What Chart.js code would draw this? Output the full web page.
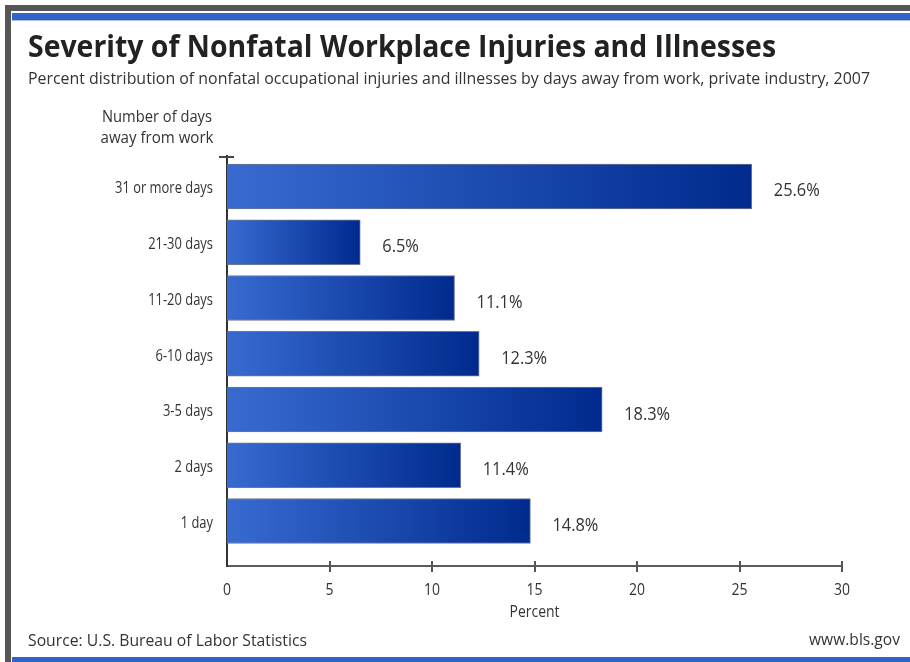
<!DOCTYPE html>
<html>
<head>
<meta charset="utf-8">
<script src="https://cdn.jsdelivr.net/npm/chart.js@4"></script>
<style>
  html, body { margin: 0; padding: 0; background: #ffffff; }
  body { width: 910px; height: 662px; position: relative; overflow: hidden; }
  .frame { position: absolute; }
  #wrap { position: absolute; left: 0; top: 0; width: 910px; height: 662px; }
</style>
</head>
<body>
<div class="frame" style="left:5px;top:5px;width:905px;height:6px;background:#555555;"></div>
<div class="frame" style="left:5px;top:5px;width:6px;height:657px;background:#555555;"></div>
<div class="frame" style="left:12px;top:13px;width:898px;height:7px;background:#3163c9;"></div>
<div class="frame" style="left:12px;top:20px;width:898px;height:1px;background:#a9bfe8;"></div>
<div class="frame" style="left:12px;top:657px;width:898px;height:5px;background:#3163c9;"></div>
<div id="wrap"><canvas id="c" width="910" height="662"></canvas></div>
<script>
// ---- data ----
const categories = ["31 or more days", "21-30 days", "11-20 days", "6-10 days", "3-5 days", "2 days", "1 day"];
const percents = [25.6, 6.5, 11.1, 12.3, 18.3, 11.4, 14.8];
const xTicks = [0, 5, 10, 15, 20, 25, 30];

const titleText = "Severity of Nonfatal Workplace Injuries and Illnesses";
const subtitleText = "Percent distribution of nonfatal occupational injuries and illnesses by days away from work, private industry, 2007";
const yTitleLines = ["Number of days", "away from work"];
const xTitleText = "Percent";
const sourceText = "Source: U.S. Bureau of Labor Statistics";
const urlText = "www.bls.gov";

const TEXT = "#333333";
const FAMILY = "'Open Sans', 'Noto Sans', sans-serif";

// The reference uses a condensed face; none is installed, so text drawn with
// these (marker) sizes is squeezed horizontally towards the reference widths.
const Y_TICK_SIZE = 17.1, X_TICK_SIZE = 17.2, VALUE_SIZE = 17.3;
const probe = document.createElement('canvas').getContext('2d');
function widthAt(size, s) { probe.font = size + "px " + FAMILY; return probe.measureText(s).width; }
const squeeze = {
  '17.1px': 98 / widthAt(Y_TICK_SIZE, categories[0]),
  '17.2px': 16 / widthAt(X_TICK_SIZE, "30"),
  '17.3px': 46 / widthAt(VALUE_SIZE, "25.6%")
};

const canvas = document.getElementById('c');
const ctx2d = canvas.getContext('2d');
const nativeFill = CanvasRenderingContext2D.prototype.fillText;
ctx2d.fillText = function (text, x, y, maxWidth) {
  let k = 1;
  for (const key in squeeze) { if (this.font.indexOf(key) >= 0) { k = squeeze[key]; break; } }
  if (k === 1) {
    return maxWidth === undefined ? nativeFill.call(this, text, x, y) : nativeFill.call(this, text, x, y, maxWidth);
  }
  this.save();
  this.translate(x, y);
  this.scale(k, 1);
  nativeFill.call(this, text, 0, 0);
  this.restore();
};

const points = percents.map((v, i) => ({ x: v, y: i }));

function barGradient(c) {
  const chart = c.chart;
  const area = chart.chartArea;
  if (!area || c.parsed === undefined) return '#1f4fb0';
  const xs = chart.scales.x;
  const x0 = xs.getPixelForValue(0);
  const x1 = xs.getPixelForValue(c.parsed.x);
  const g = chart.ctx.createLinearGradient(x0, 0, x1, 0);
  g.addColorStop(0, '#386bd0');
  g.addColorStop(1, '#002a8e');
  return g;
}

// draw text squeezed/stretched horizontally to a given width
function fitText(ctx, text, x, y, width, align) {
  const w = ctx.measureText(text).width;
  ctx.save();
  ctx.translate(x, y);
  ctx.scale(width / w, 1);
  ctx.textAlign = align;
  nativeFill.call(ctx, text, 0, 0);
  ctx.restore();
}

const decorations = {
  id: 'decorations',
  afterDraw(chart) {
    const ctx = chart.ctx;
    const area = chart.chartArea;
    const xs = chart.scales.x;
    ctx.save();
    // top cap of the y axis
    ctx.strokeStyle = '#444444';
    ctx.lineWidth = 2;
    ctx.beginPath();
    ctx.moveTo(area.left - 8, area.top + 1);
    ctx.lineTo(area.left + 7, area.top + 1);
    ctx.stroke();
    // crossing tick marks on the x axis
    ctx.strokeStyle = '#555555';
    ctx.lineWidth = 2;
    xTicks.forEach(v => {
      if (v === 0) return;
      const px = Math.round(xs.getPixelForValue(v));
      ctx.beginPath();
      ctx.moveTo(px, area.bottom - 5);
      ctx.lineTo(px, area.bottom + 6);
      ctx.stroke();
    });
    // value labels
    ctx.fillStyle = TEXT;
    ctx.font = VALUE_SIZE + "px " + FAMILY;
    ctx.textAlign = 'left';
    ctx.textBaseline = 'alphabetic';
    const meta = chart.getDatasetMeta(0);
    meta.data.forEach((bar, i) => {
      ctx.fillText(percents[i].toFixed(1) + '%', bar.x + 22, bar.y + 10);
    });
    // titles and notes
    ctx.fillStyle = '#222222';
    ctx.font = "bold 30px " + FAMILY;
    fitText(ctx, titleText, 28, 57, 748, 'left');
    ctx.fillStyle = TEXT;
    ctx.font = "16px " + FAMILY;
    fitText(ctx, subtitleText, 28, 84, 842, 'left');
    ctx.font = "17px " + FAMILY;
    fitText(ctx, yTitleLines[0], 157, 122, 110, 'center');
    fitText(ctx, yTitleLines[1], 157, 143, 113, 'center');
    fitText(ctx, xTitleText, (area.left + area.right) / 2, 617, 50, 'center');
    fitText(ctx, sourceText, 28, 646, 279, 'left');
    fitText(ctx, urlText, 900, 645, 91, 'right');
    ctx.restore();
  }
};

new Chart(canvas, {
  type: 'bar',
  data: {
    datasets: [{
      data: points,
      backgroundColor: barGradient,
      borderColor: '#6d7694',
      borderWidth: 1,
      barThickness: 45
    }]
  },
  options: {
    indexAxis: 'y',
    responsive: false,
    animation: false,
    layout: { padding: { left: 0, right: 68, top: 156, bottom: 0 } },
    plugins: { legend: { display: false }, tooltip: { enabled: false } },
    scales: {
      x: {
        type: 'linear',
        min: 0, max: 30,
        afterFit(scale) { scale.height = 96; },
        afterBuildTicks(scale) { scale.ticks = xTicks.map(v => ({ value: v })); },
        grid: { display: false, drawTicks: false },
        border: { display: true, color: '#5a5a5a', width: 2 },
        ticks: { color: TEXT, font: { size: X_TICK_SIZE, family: FAMILY }, padding: 14 }
      },
      y: {
        type: 'linear',
        reverse: true,
        offset: false,
        bounds: 'data',
        min: -0.547, max: 6.807,
        afterFit(scale) { scale.width = 227; },
        afterBuildTicks(scale) { scale.ticks = categories.map((c, i) => ({ value: i })); },
        grid: { display: false, drawTicks: false, offset: false },
        border: { display: true, color: '#333333', width: 2 },
        ticks: {
          color: TEXT,
          font: { size: Y_TICK_SIZE, family: FAMILY },
          padding: 14,
          labelOffset: 2,
          callback: (v) => categories[v] !== undefined ? categories[v] : ''
        }
      }
    }
  },
  plugins: [decorations]
});
</script>
</body>
</html>
